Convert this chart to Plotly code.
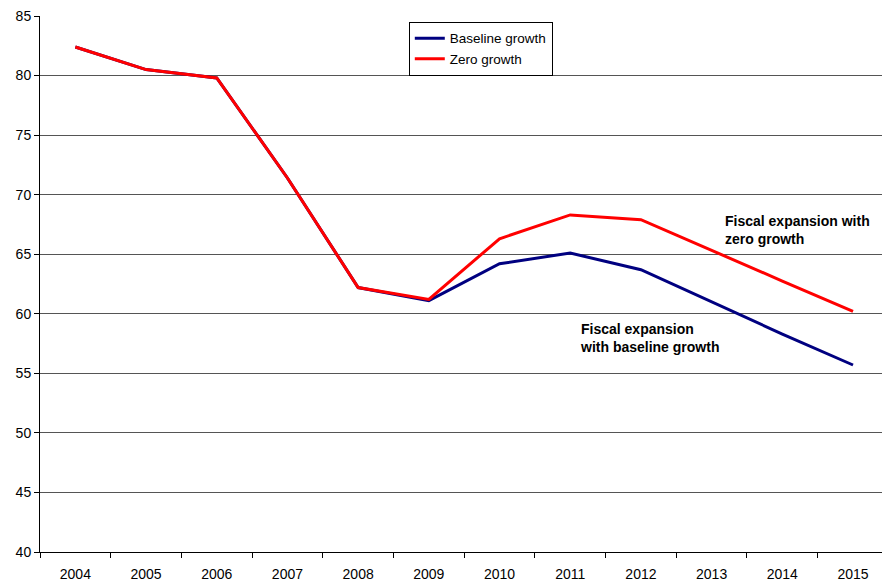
import plotly.graph_objects as go

years = ["2004", "2005", "2006", "2007", "2008", "2009", "2010", "2011", "2012", "2013", "2014", "2015"]
baseline_growth = [82.4, 80.5, 79.8, 71.4, 62.2, 61.1, 64.2, 65.1, 63.7, 61.0, 58.3, 55.7]
zero_growth = [82.4, 80.5, 79.8, 71.4, 62.2, 61.2, 66.3, 68.3, 67.9, 65.3, 62.75, 60.2]

y_ticks = [40, 45, 50, 55, 60, 65, 70, 75, 80, 85]

FONT = "Liberation Sans, Arial, sans-serif"

fig = go.Figure()
fig.add_trace(go.Scatter(x=years, y=baseline_growth, mode="lines", name="Baseline growth",
                         line=dict(color="#000080", width=3)))
fig.add_trace(go.Scatter(x=years, y=zero_growth, mode="lines", name="Zero growth",
                         line=dict(color="#FF0000", width=3)))

fig.add_annotation(x=9.16, y=68.6, xref="x", yref="y", xanchor="left", yanchor="top",
                   text="<b>Fiscal expansion with<br>zero growth</b>", showarrow=False,
                   align="left", font=dict(family=FONT, size=14, color="black"))
fig.add_annotation(x=7.11, y=59.6, xref="x", yref="y", xanchor="left", yanchor="top",
                   text="<b>Fiscal expansion<br>with baseline growth</b>", showarrow=False,
                   align="left", font=dict(family=FONT, size=14, color="black"))

fig.update_layout(
    width=882, height=584,
    margin=dict(l=40, r=0, t=16, b=32),
    paper_bgcolor="white", plot_bgcolor="white",
    font=dict(family=FONT, size=14, color="black"),
    showlegend=True,
    legend=dict(x=0.438, y=0.989, xanchor="left", yanchor="top",
                bordercolor="black", borderwidth=1, bgcolor="white",
                font=dict(family=FONT, size=13.5, color="black"),
                itemwidth=30, tracegroupgap=0),
    xaxis=dict(type="category", range=[-0.5, 11.41], tickson="boundaries", ticks="outside",
               ticklen=5, tickcolor="black", showgrid=False, showline=True, linecolor="black",
               linewidth=1, zeroline=False, tickfont=dict(size=14), ticklabelstandoff=9),
    yaxis=dict(range=[40, 85], tickvals=y_ticks, ticks="outside", ticklen=5,
               tickcolor="black", showgrid=True, gridcolor="#555555", gridwidth=1,
               showline=True, linecolor="black", linewidth=1, zeroline=False,
               tickfont=dict(size=14)),
)

fig.write_html("out.html")
